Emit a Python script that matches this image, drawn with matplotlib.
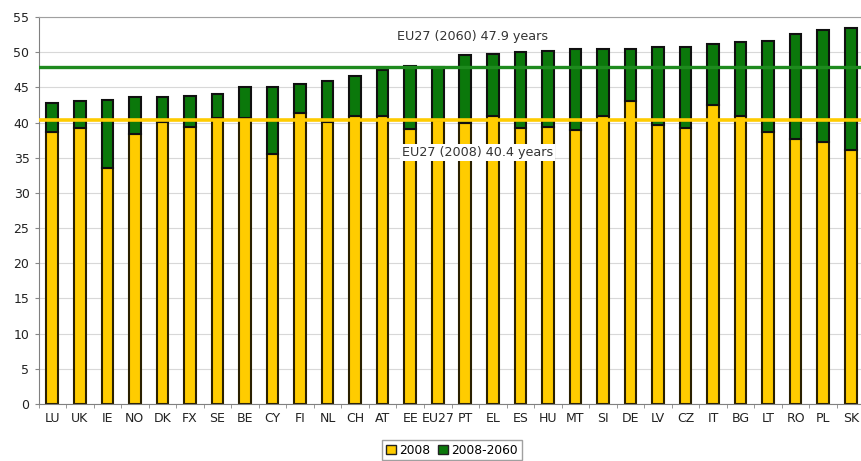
import matplotlib
matplotlib.use("Agg")
import matplotlib.pyplot as plt
from matplotlib.patches import Patch
import numpy as np

countries = ["LU", "UK", "IE", "NO", "DK", "FX", "SE", "BE", "CY", "FI", "NL", "CH", "AT", "EE", "EU27",
             "PT", "EL", "ES", "HU", "MT", "SI", "DE", "LV", "CZ", "IT", "BG", "LT", "RO", "PL", "SK"]
median_2008 = [38.7, 39.2, 33.5, 38.4, 40.1, 39.3, 40.6, 40.7, 35.5, 41.4, 40.1, 41.0, 40.9, 39.1, 40.4,
               40.0, 41.0, 39.2, 39.4, 38.9, 40.9, 43.1, 39.7, 39.2, 42.5, 41.0, 38.7, 37.6, 37.2, 36.1]
median_2060 = [42.8, 43.0, 43.2, 43.6, 43.7, 43.8, 44.0, 45.0, 45.0, 45.5, 45.9, 46.6, 47.4, 48.0, 47.9,
               49.6, 49.7, 50.0, 50.1, 50.4, 50.5, 50.5, 50.7, 50.8, 51.1, 51.4, 51.6, 52.6, 53.1, 53.4]
eu27_2008 = 40.4
eu27_2060 = 47.9
legend_labels = ["2008", "2008-2060"]

yellow = "#FFCC00"
green = "#0B780B"
line_green = "#1E8A1E"

fig = plt.figure(figsize=(8.61, 4.61), dpi=100)
ax = fig.add_axes([38.5 / 861, 57 / 461, 826 / 861, 387 / 461])

x = np.arange(len(countries))
base = np.array(median_2008)
diff = np.array(median_2060) - base
ax.bar(x, base, width=0.42, color=yellow, edgecolor="#2a2000", linewidth=1.5, zorder=2)
ax.bar(x, diff, bottom=base, width=0.42, color=green, edgecolor="#101010", linewidth=1.5, zorder=2)

ax.axhline(eu27_2060, color=line_green, linewidth=2.4, zorder=3)
ax.axhline(eu27_2008, color=yellow, linewidth=2.6, zorder=3)

ax.text(15.25, 52.2, "EU27 (2060) 47.9 years", ha="center", va="center", fontsize=9.2,
        color="#333333", zorder=4)
ax.text(15.45, 35.8, "EU27 (2008) 40.4 years", ha="center", va="center", fontsize=9.2,
        color="#333333", zorder=4,
        bbox=dict(boxstyle="square,pad=0.15", facecolor="white", edgecolor="none"))

ax.set_xlim(-0.5, 29.5)
ax.set_ylim(0, 55)
ax.set_yticks(np.arange(0, 56, 5))
ax.set_xticks(x)
ax.set_xticklabels(countries, fontsize=9, color="#222222")
ax.set_xticks(np.arange(-0.5, 30, 1), minor=True)
ax.tick_params(axis="x", which="major", length=0, pad=6)
ax.tick_params(axis="x", which="minor", length=3, color="#888888")
ax.tick_params(axis="y", length=3, color="#888888", labelsize=9, labelcolor="#222222")

ax.grid(axis="y", color="#d8d8d8", linewidth=0.8, zorder=0)
ax.set_axisbelow(True)
ax.spines["right"].set_visible(False)
ax.spines["top"].set_color("#a0a0a0")
ax.spines["left"].set_color("#808080")
ax.spines["bottom"].set_color("#808080")

handles = [Patch(facecolor=yellow, edgecolor="#222222", label=legend_labels[0]),
           Patch(facecolor=green, edgecolor="#222222", label=legend_labels[1])]
fig.legend(handles=handles, loc="lower center", bbox_to_anchor=(452 / 861, -0.012), ncol=2,
           fontsize=8.8, frameon=True, fancybox=False, edgecolor="#888888",
           handlelength=0.8, handleheight=0.8, handletextpad=0.3, columnspacing=0.6,
           borderpad=0.3)

fig.savefig("out.png", dpi=100)
